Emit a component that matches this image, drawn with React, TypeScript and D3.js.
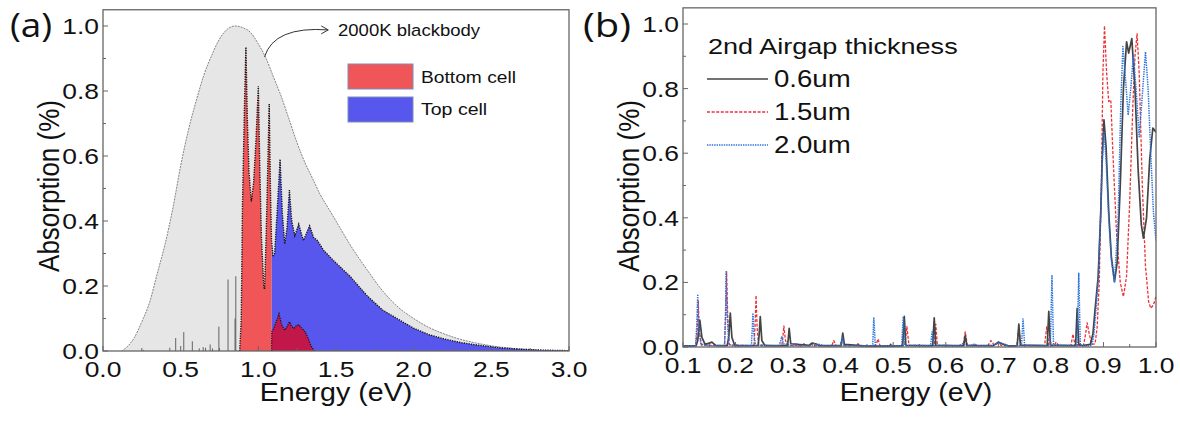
import React from "react";
import * as d3 from "d3";

const W = 1180;
const H = 421;
const FONT = "'Liberation Sans', Arial, sans-serif";
const LABEL_FONT = "'Open Sans', sans-serif";

// ---------- Panel (a) ----------
// 2000K blackbody envelope (normalised)
const bbEnergy = [0.12, 0.16, 0.2, 0.25, 0.3, 0.35, 0.4, 0.45, 0.5, 0.55, 0.6, 0.65, 0.7, 0.75, 0.8, 0.85, 0.9, 0.95, 1.0, 1.05, 1.1, 1.15, 1.2, 1.25, 1.3, 1.35, 1.4, 1.45, 1.5, 1.6, 1.7, 1.8, 1.9, 2.0, 2.1, 2.2, 2.3, 2.4, 2.5, 2.6, 2.7, 2.8, 2.9, 3.0];
const bbValue = [0.0, 0.015, 0.04, 0.09, 0.15, 0.24, 0.33, 0.44, 0.57, 0.68, 0.77, 0.85, 0.91, 0.96, 0.99, 1.0, 0.995, 0.98, 0.945, 0.9, 0.84, 0.78, 0.71, 0.64, 0.58, 0.53, 0.48, 0.44, 0.4, 0.32, 0.25, 0.185, 0.135, 0.1, 0.072, 0.052, 0.036, 0.025, 0.016, 0.01, 0.006, 0.003, 0.001, 0.0];

// Total absorbed spectrum (outline); bottom cell below 1.085 eV, top cell above
const totalEnergy = [0.88, 0.89, 0.898, 0.905, 0.912, 0.92, 0.93, 0.94, 0.955, 0.97, 0.985, 1.0, 1.01, 1.02, 1.035, 1.04, 1.05, 1.06, 1.07, 1.078, 1.085, 1.095, 1.105, 1.12, 1.14, 1.155, 1.17, 1.185, 1.2, 1.215, 1.235, 1.26, 1.29, 1.33, 1.355, 1.38, 1.42, 1.48, 1.59, 1.7, 1.8, 1.91, 2.0, 2.1, 2.19, 2.3, 2.43, 2.55, 2.67, 2.8, 3.0];
const totalValue = [0.0, 0.1, 0.45, 0.62, 0.78, 0.935, 0.7, 0.55, 0.46, 0.52, 0.65, 0.815, 0.55, 0.35, 0.2, 0.19, 0.35, 0.55, 0.76, 0.5, 0.34, 0.29, 0.3, 0.42, 0.59, 0.42, 0.33, 0.38, 0.495, 0.4, 0.355, 0.39, 0.34, 0.385, 0.35, 0.34, 0.31, 0.28, 0.23, 0.17, 0.126, 0.095, 0.07, 0.05, 0.038, 0.026, 0.017, 0.01, 0.006, 0.003, 0.001];
const cellSplit = 1.085;

// Bottom cell share above the split energy
const bottomEnergy = [1.085, 1.087, 1.1, 1.115, 1.133, 1.15, 1.17, 1.185, 1.2, 1.215, 1.23, 1.245, 1.26, 1.28, 1.3, 1.32, 1.34, 1.36];
const bottomValue = [0.0, 0.06, 0.07, 0.09, 0.115, 0.08, 0.064, 0.075, 0.09, 0.075, 0.07, 0.078, 0.081, 0.07, 0.06, 0.04, 0.015, 0.0];

// Narrow sub-gap lines
const lineEnergy = [0.26, 0.43, 0.468, 0.52, 0.575, 0.62, 0.645, 0.66, 0.69, 0.705, 0.746, 0.805, 0.85, 0.855];
const lineValue = [0.003, 0.01, 0.04, 0.058, 0.03, 0.008, 0.012, 0.01, 0.02, 0.008, 0.075, 0.22, 0.1, 0.23];

const xTicksA = [0, 0.5, 1.0, 1.5, 2.0, 2.5, 3.0];
const yTicks = [0, 0.2, 0.4, 0.6, 0.8, 1.0];

// ---------- Panel (b) ----------
const thicknessLabels = ["0.6um", "1.5um", "2.0um"];

const series06: [number, number][] = [
  [0.1, 0.003], [0.125, 0.004], [0.128, 0.02], [0.132, 0.083], [0.136, 0.03], [0.142, 0.008], [0.15, 0.012], [0.155, 0.015], [0.162, 0.005],
  [0.184, 0.004], [0.187, 0.03], [0.19, 0.105], [0.193, 0.03], [0.198, 0.006], [0.205, 0.004],
  [0.243, 0.005], [0.245, 0.04], [0.247, 0.094], [0.25, 0.02], [0.256, 0.004],
  [0.298, 0.004], [0.3, 0.02], [0.302, 0.058], [0.305, 0.01], [0.34, 0.005], [0.345, 0.012], [0.352, 0.01], [0.36, 0.004],
  [0.401, 0.004], [0.404, 0.043], [0.407, 0.008], [0.45, 0.003], [0.494, 0.003], [0.495, 0.008], [0.497, 0.003],
  [0.518, 0.004], [0.521, 0.095], [0.524, 0.005], [0.575, 0.004], [0.578, 0.09], [0.581, 0.005],
  [0.634, 0.004], [0.637, 0.035], [0.64, 0.005], [0.69, 0.004], [0.7, 0.015], [0.71, 0.008], [0.72, 0.003],
  [0.736, 0.004], [0.739, 0.071], [0.742, 0.006], [0.793, 0.004], [0.796, 0.11], [0.799, 0.006],
  [0.847, 0.004], [0.85, 0.12], [0.853, 0.008], [0.86, 0.004], [0.875, 0.008], [0.88, 0.04], [0.884, 0.115],
  [0.89, 0.218], [0.895, 0.424], [0.898, 0.6], [0.901, 0.703], [0.905, 0.62], [0.91, 0.42], [0.915, 0.28],
  [0.921, 0.202], [0.926, 0.26], [0.932, 0.5], [0.938, 0.8], [0.944, 0.945], [0.948, 0.91], [0.954, 0.955],
  [0.96, 0.8], [0.966, 0.55], [0.972, 0.38], [0.976, 0.337], [0.982, 0.4], [0.988, 0.58], [0.994, 0.678], [1.0, 0.665],
];

const series15: [number, number][] = [
  [0.1, 0.003], [0.124, 0.004], [0.127, 0.05], [0.129, 0.145], [0.131, 0.05], [0.135, 0.006],
  [0.179, 0.004], [0.181, 0.1], [0.183, 0.233], [0.185, 0.1], [0.188, 0.006],
  [0.235, 0.004], [0.237, 0.06], [0.239, 0.16], [0.241, 0.06], [0.244, 0.005],
  [0.288, 0.004], [0.29, 0.03], [0.292, 0.065], [0.295, 0.02], [0.299, 0.004],
  [0.325, 0.004], [0.33, 0.01], [0.335, 0.004], [0.343, 0.004], [0.347, 0.012], [0.352, 0.004],
  [0.383, 0.004], [0.387, 0.02], [0.391, 0.004], [0.43, 0.004], [0.433, 0.01], [0.437, 0.003],
  [0.467, 0.004], [0.471, 0.025], [0.475, 0.004], [0.522, 0.004], [0.526, 0.063], [0.53, 0.005],
  [0.578, 0.004], [0.581, 0.071], [0.584, 0.005], [0.633, 0.004], [0.637, 0.047], [0.641, 0.005],
  [0.68, 0.004], [0.686, 0.02], [0.692, 0.006], [0.7, 0.012], [0.706, 0.004],
  [0.735, 0.004], [0.739, 0.058], [0.743, 0.005], [0.788, 0.004], [0.792, 0.062], [0.796, 0.005],
  [0.806, 0.004], [0.81, 0.015], [0.815, 0.004], [0.838, 0.004], [0.842, 0.04], [0.846, 0.005],
  [0.862, 0.004], [0.866, 0.04], [0.869, 0.075], [0.873, 0.04], [0.878, 0.008], [0.884, 0.01],
  [0.888, 0.06], [0.892, 0.2], [0.896, 0.5], [0.899, 0.85], [0.902, 0.994], [0.906, 0.85], [0.91, 0.76],
  [0.914, 0.765], [0.918, 0.6], [0.925, 0.35], [0.932, 0.2], [0.938, 0.156], [0.944, 0.22], [0.95, 0.45],
  [0.956, 0.75], [0.96, 0.9], [0.964, 0.97], [0.968, 0.85], [0.974, 0.5], [0.98, 0.25], [0.986, 0.14],
  [0.99, 0.12], [0.995, 0.13], [1.0, 0.156],
];

const series20: [number, number][] = [
  [0.1, 0.003], [0.124, 0.004], [0.126, 0.06], [0.128, 0.16], [0.13, 0.06], [0.134, 0.01], [0.14, 0.006], [0.15, 0.004],
  [0.179, 0.004], [0.181, 0.1], [0.182, 0.233], [0.184, 0.1], [0.187, 0.008], [0.195, 0.004],
  [0.23, 0.004], [0.232, 0.06], [0.233, 0.105], [0.235, 0.04], [0.238, 0.005],
  [0.283, 0.004], [0.286, 0.02], [0.288, 0.032], [0.291, 0.01], [0.31, 0.004], [0.315, 0.012], [0.32, 0.003],
  [0.345, 0.004], [0.35, 0.01], [0.36, 0.008], [0.37, 0.003], [0.4, 0.004], [0.403, 0.03], [0.406, 0.004],
  [0.461, 0.004], [0.463, 0.09], [0.466, 0.004], [0.516, 0.004], [0.519, 0.094], [0.522, 0.005],
  [0.571, 0.004], [0.574, 0.047], [0.577, 0.005], [0.625, 0.004], [0.632, 0.01], [0.64, 0.004],
  [0.65, 0.005], [0.655, 0.01], [0.66, 0.004], [0.69, 0.004], [0.7, 0.015], [0.71, 0.01], [0.72, 0.003],
  [0.744, 0.004], [0.747, 0.087], [0.75, 0.005], [0.799, 0.004], [0.802, 0.223], [0.805, 0.005],
  [0.85, 0.004], [0.853, 0.228], [0.856, 0.006], [0.87, 0.003], [0.878, 0.006], [0.882, 0.04], [0.886, 0.12],
  [0.89, 0.21], [0.895, 0.42], [0.898, 0.58], [0.901, 0.667], [0.905, 0.58], [0.91, 0.4], [0.915, 0.27],
  [0.921, 0.2], [0.928, 0.4], [0.933, 0.75], [0.937, 0.93], [0.942, 0.83], [0.947, 0.718], [0.952, 0.8],
  [0.957, 0.904], [0.962, 0.8], [0.968, 0.651], [0.974, 0.78], [0.98, 0.914], [0.985, 0.8], [0.99, 0.6],
  [0.995, 0.42], [1.0, 0.33],
];

const xTicksB = [0.1, 0.2, 0.3, 0.4, 0.5, 0.6, 0.7, 0.8, 0.9, 1.0];

const RED = "#F05558";
const BLUE = "#5757EE";
const CRIMSON = "#C2174B";
const TEXT_STRETCH = 1.2;

// Horizontally widened text
function T({ x, y, size, sx = TEXT_STRETCH, anchor = "start", family = FONT, rotate = 0, children }: any) {
  const tr = `translate(${x},${y}) scale(${sx},1)` + (rotate ? ` rotate(${rotate})` : "");
  return (
    <text transform={tr} textAnchor={anchor} fontSize={size} fontFamily={family} fill="#111">
      {children}
    </text>
  );
}

function Frame({ x, y, xTicks, xMinor, yMinor }: any) {
  const [x0, x1] = x.range();
  const [y0, y1] = [y(0), y.range()[1]];
  const fmt = d3.format(".1f");
  return (
    <g>
      <rect x={x0} y={y1} width={x1 - x0} height={y0 - y1} fill="none" stroke="#666" strokeWidth={1.3} />
      {xMinor.map((t: number) => (
        <line key={"xm" + t} x1={x(t)} x2={x(t)} y1={y0} y2={y0 - 3} stroke="#666" strokeWidth={1} />
      ))}
      {xTicks.map((t: number) => (
        <line key={"xt" + t} x1={x(t)} x2={x(t)} y1={y0} y2={y0 - 5} stroke="#666" strokeWidth={1} />
      ))}
      {yMinor.map((t: number) => (
        <line key={"ym" + t} x1={x0} x2={x0 + 3} y1={y(t)} y2={y(t)} stroke="#666" strokeWidth={1} />
      ))}
      {yTicks.map((t: number) => (
        <line key={"yt" + t} x1={x0} x2={x0 + 5} y1={y(t)} y2={y(t)} stroke="#666" strokeWidth={1} />
      ))}
      {xTicks.map((t: number) => (
        <T key={"xl" + t} x={x(t)} y={y0 + 26} size={22} anchor="middle">{fmt(t)}</T>
      ))}
      {yTicks.map((t: number) => (
        <T key={"yl" + t} x={x0 - 4} y={y(t) + 8} size={22} anchor="end">{fmt(t)}</T>
      ))}
    </g>
  );
}

export default function App() {
  const xA = d3.scaleLinear().domain([0, 3]).range([103, 569]);
  const yA = d3.scaleLinear().domain([0, 1.05]).range([351, 9.75]);
  const xB = d3.scaleLinear().domain([0.1, 1.0]).range([683, 1156]);
  const yB = d3.scaleLinear().domain([0, 1.05]).range([347, 7.85]);

  const idx = (arr: number[]) => arr.map((_, i) => i);

  const areaA = (xs: number[], ys: number[]) =>
    d3.area<number>()
      .x((i) => xA(xs[i]))
      .y0(yA(0))
      .y1((i) => yA(ys[i]));
  const lineA = (xs: number[], ys: number[]) =>
    d3.line<number>()
      .x((i) => xA(xs[i]))
      .y((i) => yA(ys[i]));

  const bbIdx = idx(bbEnergy);
  const bbArea = areaA(bbEnergy, bbValue).curve(d3.curveMonotoneX)(bbIdx) || "";
  const bbLine = lineA(bbEnergy, bbValue).curve(d3.curveMonotoneX)(bbIdx) || "";

  const tIdx = idx(totalEnergy);
  const redIdx = tIdx.filter((i) => totalEnergy[i] <= cellSplit);
  const blueIdx = tIdx.filter((i) => totalEnergy[i] >= cellSplit);
  const redArea = areaA(totalEnergy, totalValue)(redIdx) || "";
  const blueArea = areaA(totalEnergy, totalValue)(blueIdx) || "";
  const totalLine = lineA(totalEnergy, totalValue)(tIdx) || "";
  const bIdx = idx(bottomEnergy);
  const crimsonArea = areaA(bottomEnergy, bottomValue)(bIdx) || "";
  const crimsonLine = lineA(bottomEnergy, bottomValue)(bIdx) || "";

  const lineB = d3.line<[number, number]>()
    .x((d) => xB(d[0]))
    .y((d) => yB(d[1]));

  // annotation arrow for the blackbody curve
  const aStart: [number, number] = [1.04, 0.905];
  const aCtrl: [number, number] = [1.1, 1.0];
  const aEnd: [number, number] = [1.45, 0.988];
  const ax = xA(aEnd[0]);
  const ay = yA(aEnd[1]);
  const arrowPath = `M${xA(aStart[0])},${yA(aStart[1])} Q${xA(aCtrl[0])},${yA(aCtrl[1])} ${ax},${ay}`;

  const minorA = [0.25, 0.75, 1.25, 1.75, 2.25, 2.75];
  const minorYA = [0.1, 0.3, 0.5, 0.7, 0.9];
  const minorB = [0.15, 0.25, 0.35, 0.45, 0.55, 0.65, 0.75, 0.85, 0.95];

  const legendB = [
    { label: thicknessLabels[0], color: "#444", dash: "none", width: 1.7 },
    { label: thicknessLabels[1], color: "#EE3036", dash: "3,1.6", width: 1.3 },
    { label: thicknessLabels[2], color: "#2A72DC", dash: "1.4,1", width: 1.5 },
  ];
  const seriesB = [
    { data: series15, ...legendB[1] },
    { data: series06, ...legendB[0] },
    { data: series20, ...legendB[2] },
  ];

  return (
    <svg width={W} height={H} style={{ position: "absolute", left: 0, top: 0, background: "#fff" }}>
      <defs>
        <clipPath id="clipA">
          <rect x={103} y={9.75} width={466} height={351 - 9.75} />
        </clipPath>
        <clipPath id="clipB">
          <rect x={683} y={7.85} width={473} height={347 - 7.85} />
        </clipPath>
      </defs>

      {/* ---------- panel (a) ---------- */}
      <g clipPath="url(#clipA)">
        <path d={bbArea} fill="#E6E6E6" />
        <path d={bbLine} fill="none" stroke="#777" strokeWidth={0.9} strokeDasharray="2,1" />
        {lineEnergy.map((e, i) => (
          <line key={"sp" + i} x1={xA(e)} x2={xA(e)} y1={yA(0)} y2={yA(lineValue[i])} stroke="#555" strokeWidth={0.9} />
        ))}
        <path d={blueArea} fill={BLUE} />
        <path d={redArea} fill={RED} />
        <path d={crimsonArea} fill={CRIMSON} />
        <path d={totalLine} fill="none" stroke="#111" strokeWidth={1.4} strokeDasharray="1.2,1.2" />
        <path d={crimsonLine} fill="none" stroke="#111" strokeWidth={1.2} strokeDasharray="1.2,1.2" />
      </g>
      <Frame x={xA} y={yA} xTicks={xTicksA} xMinor={minorA} yMinor={minorYA} />

      <path d={arrowPath} fill="none" stroke="#333" strokeWidth={1} />
      <path d={`M${ax - 7},${ay - 4} L${ax},${ay} L${ax - 7},${ay + 4}`} fill="none" stroke="#333" strokeWidth={1} />
      <T x={338} y={36} size={17} sx={1.09}>2000K blackbody</T>

      <rect x={348} y={64} width={65} height={25} fill={RED} stroke="#7f8db8" strokeWidth={1} />
      <rect x={348} y={97} width={65} height={25} fill={BLUE} stroke="#7f8db8" strokeWidth={1} />
      <T x={421} y={83} size={17} sx={1.13}>Bottom cell</T>
      <T x={421} y={115} size={17} sx={1.15}>Top cell</T>

      <T x={10} y={37} size={32} sx={1.15} family={LABEL_FONT}>(a)</T>
      <T x={59} y={186} size={26} sx={1.12} rotate={-90} anchor="middle">Absorption (%)</T>
      <T x={336} y={401} size={26} sx={1.1} anchor="middle">Energy (eV)</T>

      {/* ---------- panel (b) ---------- */}
      <g clipPath="url(#clipB)">
        {seriesB.map((s) => (
          <path key={s.label} d={lineB(s.data) || ""} fill="none" stroke={s.color} strokeWidth={s.width}
            strokeDasharray={s.dash} strokeLinejoin="round" />
        ))}
      </g>
      <Frame x={xB} y={yB} xTicks={xTicksB} xMinor={minorB} yMinor={minorYA} />

      <T x={708} y={54} size={22} sx={1.23}>2nd Airgap thickness</T>
      {legendB.map((s, i) => (
        <g key={"lg" + s.label}>
          <line x1={707} x2={768} y1={79 + i * 33} y2={79 + i * 33} stroke={s.color} strokeWidth={s.width} strokeDasharray={s.dash} />
          <T x={774} y={87 + i * 33} size={23} sx={1.2}>{s.label}</T>
        </g>
      ))}

      <T x={583} y={37} size={32} sx={1.25} family={LABEL_FONT}>(b)</T>
      <T x={639} y={186} size={26} sx={1.12} rotate={-90} anchor="middle">Absorption (%)</T>
      <T x={916} y={401} size={26} sx={1.1} anchor="middle">Energy (eV)</T>
    </svg>
  );
}
